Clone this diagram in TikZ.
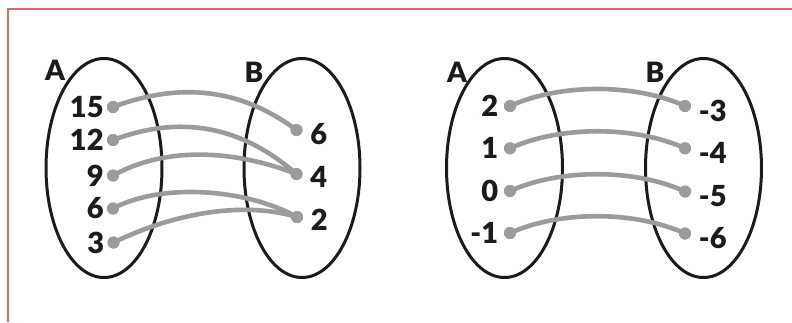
\documentclass[tikz,border=0pt]{standalone}
\usepackage{fontspec}
\setmainfont{Lato}[BoldFont={Lato Black}]
\usetikzlibrary{shapes.geometric,positioning}
\definecolor{framered}{HTML}{D66A65}
\definecolor{inkblack}{HTML}{1C1A1A}
\definecolor{linkgray}{HTML}{9B9B9B}
\begin{document}
\begin{tikzpicture}[x=1pt,y=-1pt,
  frame/.style={draw=framered, line width=2pt},
  setshape/.style={ellipse, draw=inkblack, line width=3pt, inner sep=0pt,
                   minimum width=116pt, minimum height=219pt},
  link/.style={draw=linkgray, line width=4.6pt},
  dot/.style={circle, fill=linkgray, inner sep=0pt, minimum size=12pt},
  num/.style={font=\fontsize{29}{29}\selectfont\bfseries, text=inkblack, inner sep=0pt},
  setlab/.style={font=\fontsize{28}{28}\selectfont\bfseries, text=inkblack, inner sep=0pt}]
\useasboundingbox (0,0) rectangle (792,322);
\fill[white] (0,0) rectangle (792,322);
\coordinate (fbl) at (7.5,322);
\coordinate (ftl) at (7.5,8.5);
\coordinate (ftr) at (792,8.5);
\draw[frame] (fbl) -- (ftl) -- (ftr);

% ---------- left panel ----------
\node[setshape] (A1) at (104,168) {};
\node[setshape] (B1) at (302,168) {};
\node[setlab] (labA1) at (55,70) {A};
\node[setlab] (labB1) at (254,72) {B};

\node[dot] (a15) at (113,107) {};
\node[dot] (a12) at (113,140) {};
\node[dot] (a9)  at (113,175.5) {};
\node[dot] (a6)  at (113,208.5) {};
\node[dot] (a3)  at (113.5,242.5) {};
\node[dot] (b6)  at (296.5,130) {};
\node[dot] (b4)  at (296.5,174) {};
\node[dot] (b2)  at (297,217) {};

\draw[link] (a15.center) .. controls (180,82) and (240,88) .. (b6.center);
\draw[link] (a12.center) .. controls (180,115) and (240,125) .. (b4.center);
\draw[link] (a9.center)  .. controls (170,144) and (240,152) .. (b4.center);
\draw[link] (a6.center)  .. controls (160,183) and (245,188) .. (b2.center);
\draw[link] (a3.center)  .. controls (170,215) and (240,200) .. (b2.center);

\foreach \n in {a15,a12,a9,a6,a3,b6,b4,b2} \fill[linkgray] (\n.center) circle (6pt);

\node[num, left=3pt of a15] (ta15) {15};
\node[num, left=3pt of a12] (ta12) {12};
\node[num, left=3pt of a9]  (ta9)  {9};
\node[num, left=3pt of a6]  (ta6)  {6};
\node[num, left=3pt of a3]  (ta3)  {3};
\node[num, right=7.5pt of b6, yshift=-4pt] (tb6) {6};
\node[num, right=7.5pt of b4, yshift=-3pt] (tb4) {4};
\node[num, right=7.5pt of b2, yshift=-3pt] (tb2) {2};

% ---------- right panel ----------
\node[setshape] (A2) at (504.5,168) {};
\node[setshape] (B2) at (703.5,168) {};
\node[setlab] (labA2) at (457,72) {A};
\node[setlab] (labB2) at (655,72) {B};

\node[dot] (c2)  at (510,106) {};
\node[dot] (c1)  at (510,148.3) {};
\node[dot] (c0)  at (510,191) {};
\node[dot] (cm1) at (510,233) {};
\node[dot] (d3)  at (685,106) {};
\node[dot] (d4)  at (685,148.3) {};
\node[dot] (d5)  at (685,191.5) {};
\node[dot] (d6)  at (685,233.5) {};

\draw[link] (c2.center)  .. controls (560,83.3)  and (635,83.3)  .. (d3.center);
\draw[link] (c1.center)  .. controls (560,125.6) and (635,125.6) .. (d4.center);
\draw[link] (c0.center)  .. controls (560,168.5) and (635,168.5) .. (d5.center);
\draw[link] (cm1.center) .. controls (560,210.5) and (635,210.5) .. (d6.center);

\foreach \n in {c2,c1,c0,cm1,d3,d4,d5,d6} \fill[linkgray] (\n.center) circle (6pt);

\node[num, left=5.5pt of c2]  (tc2)  {2};
\node[num, left=5.5pt of c1]  (tc1)  {1};
\node[num, left=5.5pt of c0]  (tc0)  {0};
\node[num, left=5.5pt of cm1] (tcm1) {-1};
\node[num, right=7.5pt of d3, yshift=-5pt] (td3) {-3};
\node[num, right=7.5pt of d4, yshift=-5pt] (td4) {-4};
\node[num, right=7.5pt of d5, yshift=-5pt] (td5) {-5};
\node[num, right=7.5pt of d6, yshift=-5pt] (td6) {-6};
\end{tikzpicture}
\end{document}
